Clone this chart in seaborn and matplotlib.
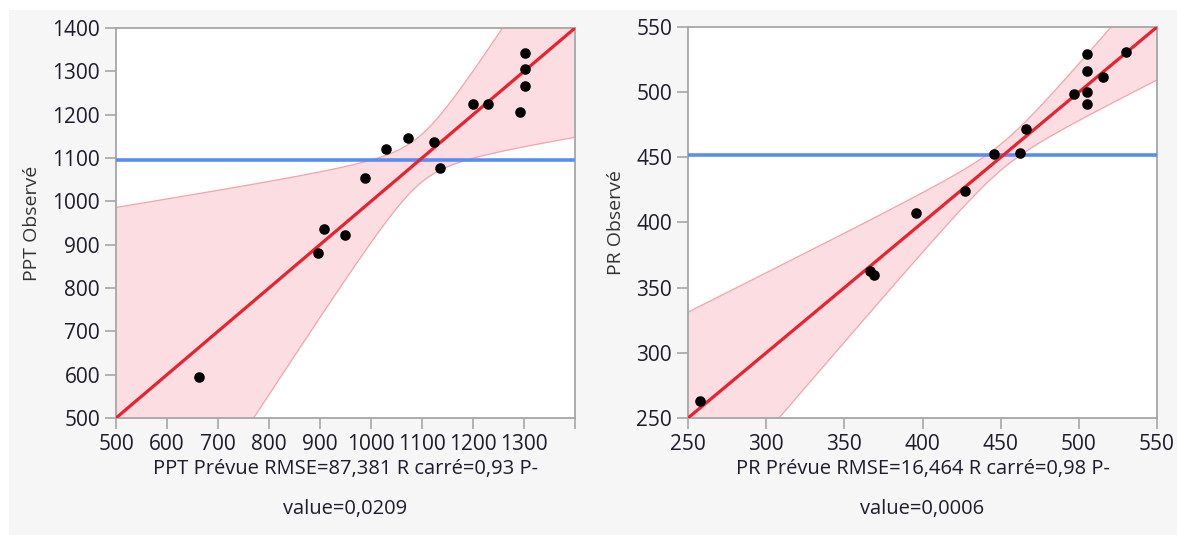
import numpy as np
import matplotlib
matplotlib.use("Agg")
import matplotlib.pyplot as plt
import seaborn as sns
from matplotlib.patches import Rectangle

# ---------------- data ----------------
ppt_predicted = [663, 896, 907, 949, 989, 1029, 1073, 1124, 1136, 1200, 1230, 1292, 1301, 1301, 1301]
ppt_observed = [594, 880, 937, 923, 1053, 1121, 1146, 1136, 1078, 1224, 1224, 1206, 1343, 1306, 1267]
ppt_ticks = [500, 600, 700, 800, 900, 1000, 1100, 1200, 1300, 1400]
ppt_xticklabels = ["500", "600", "700", "800", "900", "1000", "1100", "1200", "1300", ""]
ppt_yticklabels = ["500", "600", "700", "800", "900", "1000", "1100", "1200", "1300", "1400"]
ppt_xlabel = "PPT Prévue RMSE=87,381 R carré=0,93 P-\nvalue=0,0209"
ppt_ylabel = "PPT Observé"
ppt_band_center = 1096
ppt_band_halfwidth_min = 55
ppt_band_spread = 0.81

pr_predicted = [257.9, 366.4, 369.2, 395.8, 427.2, 445.6, 462.6, 466.2, 496.8, 505.4, 505.4, 505.4, 505.4, 515.5, 529.9]
pr_observed = [262.8, 362.7, 360.1, 407.0, 424.5, 452.4, 453.7, 472.0, 498.6, 529.1, 516.6, 500.2, 490.8, 511.4, 530.7]
pr_ticks = [250, 300, 350, 400, 450, 500, 550]
pr_xticklabels = ["250", "300", "350", "400", "450", "500", "550"]
pr_yticklabels = ["250", "300", "350", "400", "450", "500", "550"]
pr_xlabel = "PR Prévue RMSE=16,464 R carré=0,98 P-\nvalue=0,0006"
pr_ylabel = "PR Observé"
pr_band_center = 451.5
pr_band_halfwidth_min = 10
pr_band_spread = 0.40

fit_intercept = 0.0
fit_slope = 1.0

# ---------------- style ----------------
sns.set_style("white")
plt.rcParams["font.family"] = ["Open Sans", "DejaVu Sans"]

RED = "#e8232f"
BAND = "#fcdde1"
BAND_EDGE = "#f3a3ab"
BLUE = "#5b8cf0"
SPINE = "#a6a6a6"
TEXT = "#1c1c2c"

fig = plt.figure(figsize=(11.77, 5.35), dpi=100, facecolor="white")
fig.patches.append(Rectangle((9 / 1177, 0), 1, 1 - 10 / 535, transform=fig.transFigure,
                             facecolor="#f6f6f6", edgecolor="none", zorder=-10))

ax1 = fig.add_axes([116 / 1177, 117 / 535, 459 / 1177, 390 / 535])
ax2 = fig.add_axes([688 / 1177, 117 / 535, 469 / 1177, 391 / 535])


def panel(ax, xp, yo, ticks, xtl, ytl, xlabel, ylabel, center, hmin, spread):
    lo, hi = ticks[0], ticks[-1]
    ax.set_facecolor("white")
    grid = np.linspace(lo, hi, 400)
    line = fit_intercept + fit_slope * grid
    half = np.sqrt(hmin ** 2 + (spread * (grid - center)) ** 2)
    ax.fill_between(grid, line - half, line + half, color=BAND, lw=0, zorder=1)
    sns.lineplot(x=grid, y=line - half, ax=ax, color=BAND_EDGE, lw=0.9, zorder=2)
    sns.lineplot(x=grid, y=line + half, ax=ax, color=BAND_EDGE, lw=0.9, zorder=2)
    ax.axhline(np.mean(yo), color=BLUE, lw=2.6, zorder=3)
    ax.axline((0, fit_intercept), slope=fit_slope, color=RED, lw=2.3, zorder=4)
    sns.scatterplot(x=xp, y=yo, ax=ax, color="black", s=58, edgecolor="black",
                    linewidth=0, zorder=5)
    ax.set_xlim(lo, hi)
    ax.set_ylim(lo, hi)
    ax.set_xticks(ticks)
    ax.set_xticklabels(xtl)
    ax.set_yticks(ticks)
    ax.set_yticklabels(ytl)
    ax.tick_params(axis="both", direction="out", length=8, width=1.2, color=SPINE,
                   labelsize=15, labelcolor=TEXT, pad=3.5, bottom=True, left=True)
    for s in ax.spines.values():
        s.set_color(SPINE)
        s.set_linewidth(1.3)
    ax.set_xlabel(xlabel, fontsize=14.5, color=TEXT, linespacing=2.35, labelpad=3)
    ax.set_ylabel(ylabel, fontsize=14, color="#333333", labelpad=8)


panel(ax1, ppt_predicted, ppt_observed, ppt_ticks, ppt_xticklabels, ppt_yticklabels,
      ppt_xlabel, ppt_ylabel, ppt_band_center, ppt_band_halfwidth_min, ppt_band_spread)
panel(ax2, pr_predicted, pr_observed, pr_ticks, pr_xticklabels, pr_yticklabels,
      pr_xlabel, pr_ylabel, pr_band_center, pr_band_halfwidth_min, pr_band_spread)

fig.savefig("out.png", dpi=100, facecolor="white")
